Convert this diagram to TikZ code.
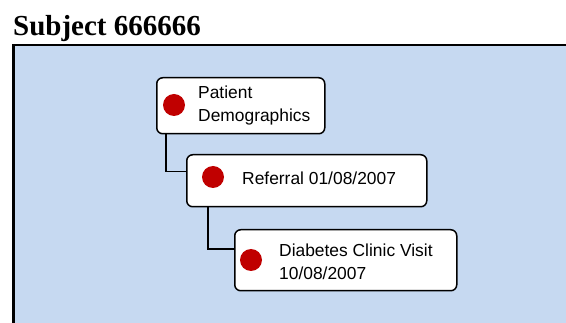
\documentclass[tikz,border=0pt]{standalone}
\usepackage{fontspec}
\setmainfont{Liberation Serif}
\setsansfont{Liberation Sans}
\usetikzlibrary{positioning}
\definecolor{bgblue}{HTML}{C6D9F1}
\definecolor{dotred}{HTML}{C00000}

\begin{document}
\begin{tikzpicture}[x=1pt,y=-1pt,
        visit node/.style={draw, line width=1.5pt, rounded corners=6pt, fill=white,
        anchor=north west, inner sep=0pt},
        dot node/.style={circle, fill=dotred, inner sep=0pt, minimum size=22pt},
        label node/.style={anchor=west, align=left, inner sep=0pt,
        font=\sffamily\fontsize{17.4}{23}\selectfont}
        ]

        \useasboundingbox (0,0) rectangle (566,323);
        \clip (0,0) rectangle (566,323);

        \node [anchor=base west, inner sep=0pt, font=\bfseries\fontsize{29}{34}\selectfont]
            (title) at (13,36) {Subject 666666};
        \fill [bgblue, draw=black, line width=2.5pt] (13.5,45) rectangle (590,340);

        \node [visit node, minimum width=168pt, minimum height=56pt] (demo) at (156,77) {};
        \node [visit node, minimum width=240pt, minimum height=52pt] (ref) at (186,154) {};
        \node [visit node, minimum width=222pt, minimum height=61pt] (dcv) at (234,229) {};

        \node [dot node] (demodot) at (174,105) {};
        \node [dot node] (refdot) at (213,177) {};
        \node [dot node] (dcvdot) at (251,260) {};

        \node [label node] (demotxt) at (198,106) {Patient\\Demographics};
        \node [label node] (reftxt) at (242,178) {Referral 01/08/2007};
        \node [label node] (dcvtxt) at (279,262) {Diabetes Clinic Visit\\10/08/2007};

        \coordinate (refin) at ([yshift=9pt]ref.west);
        \coordinate (dcvin) at ([yshift=11pt]dcv.west);

        \draw [line width=1.5pt] ([xshift=10pt]demo.south west) |- (refin);
        \draw [line width=1.5pt] ([xshift=22pt]ref.south west) |- (dcvin);
     \end{tikzpicture}
\end{document}
